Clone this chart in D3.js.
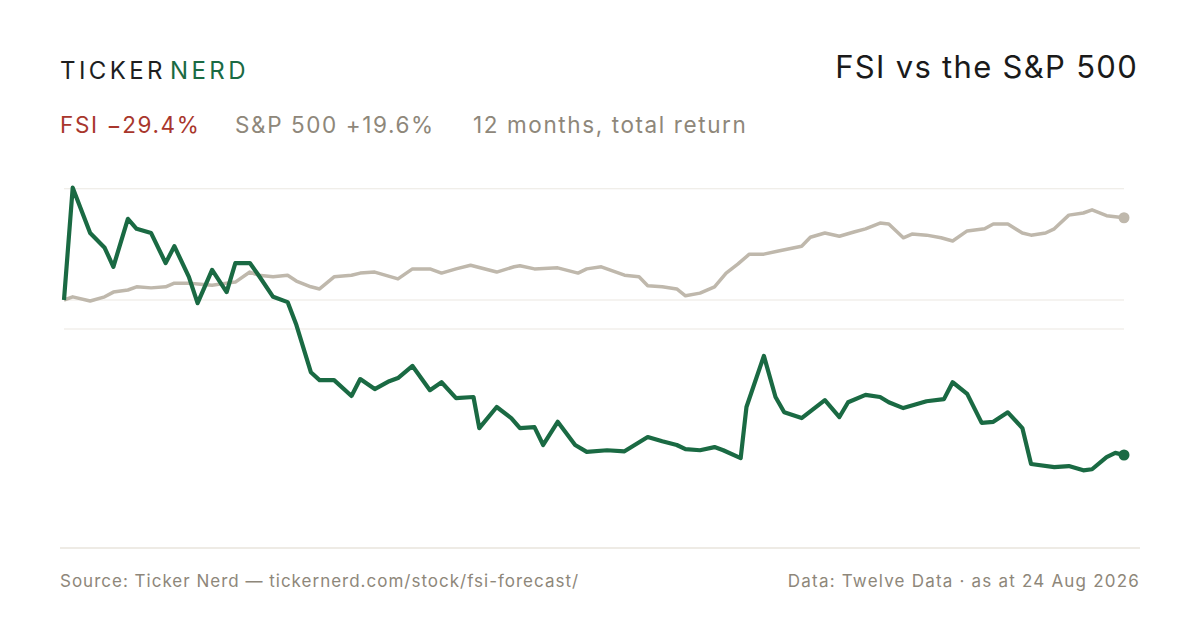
<!DOCTYPE html>
<html><head><meta charset="utf-8">
<script src="https://cdn.jsdelivr.net/npm/d3@7"></script>
<style>body{margin:0;background:#fff}svg{display:block}text{font-family:Inter,"Noto Sans",sans-serif}</style>
</head><body><svg id="c" width="1200" height="630"></svg>
<script>
const fsiDays=[0,3,9,14,17,22,25,30,35,38,43,46,51,56,59,64,67,72,77,80,85,88,93,99,102,107,112,115,120,126,130,135,141,143,149,154,157,162,165,170,176,180,187,193,201,206,211,214,219,224,227,233,235,241,245,248,254,262,267,270,276,281,284,289,297,303,306,311,316,320,325,330,333,341,346,351,354,359,362,365];
const fsiVals=[0,21.3,12.7,9.9,6.3,15.4,13.5,12.7,7.0,10.2,4.4,-0.6,5.7,1.5,7.0,7.0,4.7,0.6,-0.4,-4.7,-13.7,-15.2,-15.2,-18.2,-15.0,-16.9,-15.4,-14.8,-12.5,-17.1,-15.6,-18.6,-18.4,-24.3,-20.3,-22.4,-24.3,-24.1,-27.5,-23.1,-27.5,-28.8,-28.5,-28.7,-26.0,-26.8,-27.5,-28.3,-28.5,-27.9,-28.5,-30.0,-20.3,-10.6,-18.4,-21.3,-22.4,-19.0,-22.2,-19.4,-18.0,-18.4,-19.4,-20.5,-19.2,-18.8,-15.6,-17.8,-23.3,-23.1,-21.3,-24.3,-31.1,-31.7,-31.5,-32.3,-32.1,-29.8,-29.0,-29.4];
const spDays=[0,3,9,14,17,22,25,30,35,38,43,47,51,56,59,64,67,72,77,80,85,88,93,99,102,107,115,120,126,130,135,140,149,155,157,162,170,177,180,185,193,198,201,206,211,214,219,224,228,232,236,241,246,254,257,262,267,272,276,281,284,289,292,297,302,306,311,317,320,325,330,333,338,341,346,351,354,359,362,365];
const spVals=[0,0.6,-0.2,0.6,1.5,1.9,2.5,2.3,2.5,3.2,3.2,3.0,2.8,3.2,3.4,5.3,4.7,4.4,4.7,3.6,2.5,2.1,4.4,4.7,5.1,5.3,4.0,5.9,5.9,5.1,5.9,6.6,5.3,6.3,6.5,5.9,6.1,5.1,5.9,6.3,4.7,4.4,2.7,2.5,2.1,0.8,1.3,2.5,5.1,6.8,8.7,8.7,9.3,10.2,11.9,12.7,12.1,12.9,13.5,14.6,14.4,11.8,12.5,12.3,11.8,11.2,13.1,13.5,14.4,14.4,12.7,12.3,12.7,13.5,16.1,16.5,17.1,16.0,15.8,15.6];
const gridVals=[21.1,0,-5.5];

const svg=d3.select("#c");
const x=d3.scaleLinear().domain([0,365]).range([64,1124]);
const y=d3.scaleLinear().domain([0,21.3]).range([300,187.7]);

svg.append("g").selectAll("line").data(gridVals).join("line")
  .attr("x1",64).attr("x2",1124).attr("y1",d=>y(d)).attr("y2",d=>y(d))
  .attr("stroke","#ebe8e2").attr("stroke-width",1.2);

const line=d3.line().x(d=>x(d[0])).y(d=>y(d[1]));
const sp=spDays.map((d,i)=>[d,spVals[i]]);
const fsi=fsiDays.map((d,i)=>[d,fsiVals[i]]);
svg.append("path").attr("d",line(sp)).attr("fill","none").attr("stroke","#bfb8ac").attr("stroke-width",3.5).attr("stroke-linejoin","round");
svg.append("path").attr("d",line(fsi)).attr("fill","none").attr("stroke","#1a6a43").attr("stroke-width",4.2).attr("stroke-linejoin","round");
svg.append("circle").attr("cx",x(365)).attr("cy",y(spVals[spVals.length-1])).attr("r",5.5).attr("fill","#bfb8ac");
svg.append("circle").attr("cx",x(365)).attr("cy",y(fsiVals[fsiVals.length-1])).attr("r",5.5).attr("fill","#1a6a43");

svg.append("line").attr("x1",60).attr("x2",1140).attr("y1",548).attr("y2",548).attr("stroke","#ddd8cc").attr("stroke-width",1.2);

svg.append("text").attr("x",60).attr("y",79).attr("font-size",24).attr("letter-spacing",3.4).attr("fill","#1e1e1e").text("TICKER");
svg.append("text").attr("x",170).attr("y",79).attr("font-size",24).attr("letter-spacing",3.4).attr("fill","#1a6a43").text("NERD");
svg.append("text").attr("x",1138).attr("y",78).attr("text-anchor","end").attr("font-size",31).attr("letter-spacing",1.3).attr("fill","#1a1a1a").text("FSI vs the S&P 500");

const subT=[["FSI −29.4%",60,"#a8362c"],["S&P 500 +19.6%",235,"#8e877a"],["12 months, total return",473,"#8e877a"]];
svg.append("g").selectAll("text").data(subT).join("text")
  .attr("x",d=>d[1]).attr("y",133).attr("font-size",22.5).attr("letter-spacing",1.6)
  .attr("fill",d=>d[2]).text(d=>d[0]);

svg.append("text").attr("x",60).attr("y",587).attr("font-size",17).attr("letter-spacing",1).attr("fill","#8e877a").text("Source: Ticker Nerd — tickernerd.com/stock/fsi-forecast/");
svg.append("text").attr("x",1140).attr("y",587).attr("text-anchor","end").attr("font-size",17).attr("letter-spacing",1.2).attr("fill","#8e877a").text("Data: Twelve Data · as at 24 Aug 2026");
</script></body></html>
